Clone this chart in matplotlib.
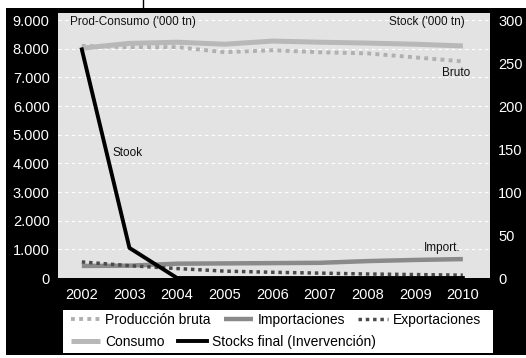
import matplotlib
matplotlib.use('Agg')
import matplotlib.pyplot as plt
from matplotlib.patches import Rectangle
from matplotlib.lines import Line2D
from matplotlib import font_manager

years = [2002, 2003, 2004, 2005, 2006, 2007, 2008, 2009, 2010]
prod_bruta = [8100, 8060, 8060, 7880, 7950, 7880, 7840, 7700, 7560]
consumo = [8020, 8190, 8230, 8160, 8270, 8230, 8200, 8160, 8100]
importaciones = [420, 430, 500, 510, 520, 530, 590, 630, 660]
exportaciones = [560, 430, 330, 240, 200, 170, 140, 120, 100]
stocks = [266, 35, 0, 0, 0, 0, 0, 0, 0]

left_ticks = [0, 1000, 2000, 3000, 4000, 5000, 6000, 7000, 8000, 9000]
left_labels = ['0', '1.000', '2.000', '3.000', '4.000', '5.000', '6.000', '7.000', '8.000', '9.000']
right_ticks = [0, 50, 100, 150, 200, 250, 300]

names = [f.name for f in font_manager.fontManager.ttflist]
narrow = 'Liberation Sans Narrow' if 'Liberation Sans Narrow' in names else 'Liberation Sans'

W, H = 526, 358
fig = plt.figure(figsize=(W / 100, H / 100), dpi=100)
fig.patch.set_facecolor('white')
fig.add_artist(Rectangle((6 / W, 3 / H), 1 - 6 / W, 347 / H, transform=fig.transFigure,
                         facecolor='black', edgecolor='none', zorder=0))
fig.add_artist(Line2D([143 / W, 143 / W], [1, 350 / H], transform=fig.transFigure,
                      color='black', lw=1))

ax = fig.add_axes([58 / W, 80 / H, 432 / W, 265 / H])
ax.set_facecolor('#e3e3e3')
ax.set_xlim(2001.5, 2010.57)
ax.set_ylim(0, 9250)
for s in ax.spines.values():
    s.set_visible(False)
ax.set_yticks(left_ticks)
ax.set_yticklabels(left_labels)
ax.set_xticks(years)
ax.tick_params(length=0, colors='white', labelsize=10.5)
ax.tick_params(axis='y', pad=6)
ax.tick_params(axis='x', pad=7)
for lab in ax.get_xticklabels() + ax.get_yticklabels():
    lab.set_family(narrow)
ax.grid(axis='y', color='white', linestyle=(0, (3, 3)), linewidth=0.8)
ax.set_axisbelow(True)

l_prod, = ax.plot(years, prod_bruta, color='#b0b0b0', lw=2.8, linestyle=(0, (1, 1.1)),
                  solid_capstyle='butt', dash_capstyle='butt')
l_cons, = ax.plot(years, consumo, color='#b8b8b8', lw=3.6, solid_capstyle='butt')
l_imp, = ax.plot(years, importaciones, color='#8a8a8a', lw=3.2, solid_capstyle='butt')
l_exp, = ax.plot(years, exportaciones, color='#4a4a4a', lw=2.5, linestyle=(0, (1, 1.1)),
                 dash_capstyle='butt')

ax2 = ax.twinx()
ax2.set_ylim(0, 9250 / 30)
ax2.set_yticks(right_ticks)
for s in ax2.spines.values():
    s.set_visible(False)
ax2.tick_params(length=0, colors='white', labelsize=10.5, pad=6)
for lab in ax2.get_yticklabels():
    lab.set_family(narrow)
l_stk, = ax2.plot(years, stocks, color='black', lw=2.8, clip_on=False)

tk = dict(fontsize=8.5, family=narrow, color='#111111')
ax.text(2001.75, 8950, "Prod-Consumo ('000 tn)", ha='left', va='center', **tk)
ax.text(2010.05, 8950, "Stock ('000 tn)", ha='right', va='center', **tk)
ax.text(2010.15, 7150, 'Bruto', ha='right', va='center', **tk)
ax.text(2002.65, 4350, 'Stook', ha='left', va='center', **tk)
ax.text(2009.95, 1050, 'Import.', ha='right', va='center', **tk)

# legend box
fig.add_artist(Rectangle((63 / W, 5 / H), 430 / W, 43 / H, transform=fig.transFigure,
                         facecolor='white', edgecolor='none', zorder=1))
lk = dict(frameon=False, handlelength=2.1, handletextpad=0.35, columnspacing=0.95,
          borderpad=0, borderaxespad=0, prop={'family': 'Liberation Sans', 'size': 10})
leg1 = fig.legend([l_prod, l_imp, l_exp], ['Producción bruta', 'Importaciones', 'Exportaciones'],
                  ncol=3, loc='center left', bbox_to_anchor=(71 / W, (358 - 320) / H), **lk)
leg2 = fig.legend([l_cons, l_stk], ['Consumo', 'Stocks final (Invervención)'],
                  ncol=2, loc='center left', bbox_to_anchor=(71 / W, (358 - 342) / H), **lk)
leg1.set_zorder(2)
leg2.set_zorder(2)

fig.savefig('out.png', dpi=100, facecolor=fig.get_facecolor())
